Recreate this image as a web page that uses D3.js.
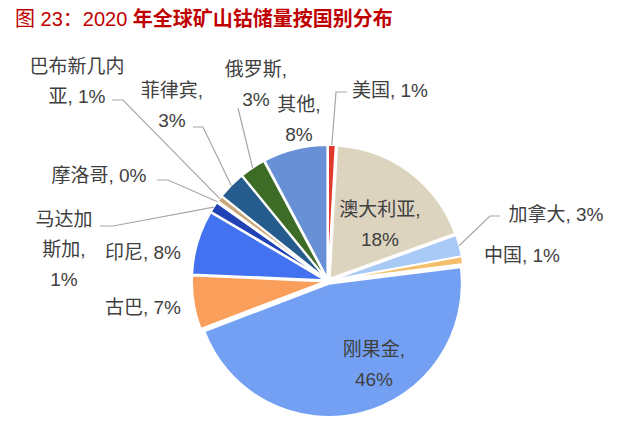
<!DOCTYPE html>
<html>
<head>
<meta charset="utf-8">
<script src="https://cdn.jsdelivr.net/npm/d3@7"></script>
<style>
  body { margin: 0; background: #fff; }
  svg { display: block; }
</style>
</head>
<body>
<script>
// 2020 cobalt reserves by country, share of world total (%), clockwise from 12 o'clock
const countries = ["美国", "澳大利亚", "加拿大", "中国", "刚果金", "古巴", "印尼",
                   "马达加斯加", "摩洛哥", "巴布新几内亚", "菲律宾", "俄罗斯", "其他"];
const shares = [0.9, 18.6, 2.6, 0.9, 46.2, 6.5, 7.8, 1.3, 0.2, 0.7, 3.4, 3.1, 7.8];
const shareLabels = ["1%", "18%", "3%", "1%", "46%", "7%", "8%", "1%", "0%", "1%", "3%", "3%", "8%"];

const sliceColors = ["#e03a2e", "#ddd4bf", "#a9c9f6", "#f6bd6a", "#74a0f4", "#fa9f5b", "#4272ef",
                     "#2142b4", "#d9a050", "#c9a878", "#255c8d", "#3d6c27", "#6890d6"];

const width = 640, height = 430;
const cx = 328, cy = 281, radius = 133, explode = 3;
const fontStack = "'Liberation Sans', Arial, 'Noto Sans CJK SC', sans-serif";

// where each label sits: split = char positions where lines break,
// leader = label-side points of the leader line (null = no leader)
const labelLayout = {
  "美国":       { x: 390, y: 97,  split: [],     leader: [[347, 92], [336, 92]] },
  "澳大利亚":   { x: 380, y: 216, split: [5],    leader: null },
  "加拿大":     { x: 556, y: 221, split: [],     leader: [[500, 216], [490, 216]] },
  "中国":       { x: 522, y: 262, split: [],     leader: null },
  "刚果金":     { x: 374, y: 356, split: [4],    leader: null },
  "古巴":       { x: 143, y: 314, split: [],     leader: null },
  "印尼":       { x: 143, y: 259, split: [],     leader: null },
  "马达加斯加": { x: 64,  y: 226, split: [3, 6], leader: [[100, 226], [113, 226]] },
  "摩洛哥":     { x: 99,  y: 182, split: [],     leader: [[157, 180], [168, 180]] },
  "巴布新几内亚": { x: 77, y: 73, split: [5],    leader: [[112, 100], [123, 100]] },
  "菲律宾":     { x: 172, y: 97,  split: [4],    leader: [[193, 127], [203, 127]] },
  "俄罗斯":     { x: 256, y: 76,  split: [4],    leader: [[238, 108]] },
  "其他":       { x: 299, y: 111, split: [3],    leader: null }
};

const svg = d3.select("body").append("svg")
  .attr("width", width)
  .attr("height", height);

let title = svg.append("text")
  .attr("x", 15)
  .attr("y", 26)
  .attr("fill", "#c00000")
  .attr("font-family", fontStack)
  .attr("font-size", 20);
title.append("tspan").text("图 23：2020 ");
title.append("tspan").attr("font-weight", "bold").text("年全球矿山钴储量按国别分布");

const pie = d3.pie().sort(null).value(d => d.value);
const data = countries.map((c, i) => ({ name: c, value: shares[i], color: sliceColors[i], pct: shareLabels[i] }));
const arcs = pie(data);

const arc = d3.arc().innerRadius(0).outerRadius(radius);
const edgeArc = d3.arc().innerRadius(radius + explode).outerRadius(radius + explode);

const g = svg.append("g").attr("transform", `translate(${cx},${cy})`);

function midAngle(d) { return (d.startAngle + d.endAngle) / 2; }

g.selectAll("path.slice")
  .data(arcs)
  .join("path")
  .attr("class", "slice")
  .attr("d", arc)
  .attr("fill", d => d.data.color)
  .attr("stroke", "#fff")
  .attr("stroke-width", 1.8)
  .attr("transform", d => {
    let a = midAngle(d);
    return `translate(${explode * Math.sin(a)},${-explode * Math.cos(a)})`;
  });

// leader lines
let line = d3.line();
arcs.forEach(d => {
  let lay = labelLayout[d.data.name];
  if (!lay.leader) return;
  let end = edgeArc.centroid(d);
  let pts = lay.leader.map(p => [p[0] - cx, p[1] - cy]).concat([end]);
  g.append("path")
    .attr("d", line(pts))
    .attr("fill", "none")
    .attr("stroke", "#a6a6a6")
    .attr("stroke-width", 1.2);
});

// labels
arcs.forEach(d => {
  let lay = labelLayout[d.data.name];
  let full = d.data.name + ", " + d.data.pct;
  let cuts = [0].concat(lay.split, [full.length]);
  let lines = [];
  for (let i = 0; i < cuts.length - 1; i++) lines.push(full.slice(cuts[i], cuts[i + 1]).trim());
  let t = svg.append("text")
    .attr("text-anchor", "middle")
    .attr("fill", "#404040")
    .attr("font-family", fontStack)
    .attr("font-size", 19);
  lines.forEach((s, i) => {
    t.append("tspan")
      .attr("x", lay.x)
      .attr("y", lay.y + i * 30)
      .text(s);
  });
});
</script>
</body>
</html>
